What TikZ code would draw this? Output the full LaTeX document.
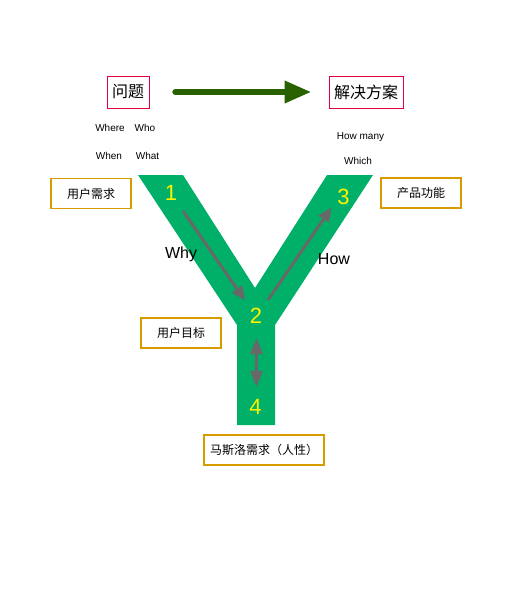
\documentclass[tikz,border=0pt]{standalone}
\usepackage{fontspec}
\setmainfont{Liberation Sans}
\newfontfamily\cjk{Noto Sans CJK SC}
\usetikzlibrary{arrows.meta,positioning}

\definecolor{ygreen}{RGB}{0,176,104}
\definecolor{darkgreen}{RGB}{41,97,0}
\definecolor{boxorange}{RGB}{215,155,0}
\definecolor{boxred}{RGB}{225,0,60}
\definecolor{arrgray}{RGB}{104,104,104}

\begin{document}
\begin{tikzpicture}[x=1pt,y=-1pt]
		\tikzstyle{redbox}=[draw=boxred, line width=1pt, inner sep=0pt, minimum height=32pt, font=\cjk\fontsize{16}{18}\selectfont]
		\tikzstyle{orangebox}=[draw=boxorange, line width=1.5pt, inner sep=0pt, minimum width=80pt, minimum height=30pt, font=\cjk\fontsize{12}{14}\selectfont]
		\tikzstyle{digit}=[text=yellow, inner sep=0pt, font=\fontsize{22}{24}\selectfont]
		\tikzstyle{small}=[inner sep=0pt, font=\fontsize{10}{12}\selectfont]
		\tikzstyle{big}=[inner sep=0pt, font=\fontsize{16}{18}\selectfont]
		\tikzstyle{grayarrow}=[draw=arrgray, line width=3pt, -{Triangle[length=14pt,width=12pt]}]
		
		\useasboundingbox (0,0) rectangle (512,600);
		
		% Y shape
		\fill[ygreen] (138,175) -- (183,175) -- (255,288) -- (327,175) -- (373,175)
		-- (275,325) -- (275,425) -- (237,425) -- (237,325) -- cycle;
		
		% Top row
		\node[redbox, minimum width=42pt] (problem) at (128,92) {问题};
		\node[redbox, minimum width=74pt] (solution) at (366,92) {解决方案};
		\draw[darkgreen, line width=6.5pt, line cap=round, -{Triangle[length=27pt,width=21pt]}]
		([xshift=26pt]problem.east) -- ([xshift=-17pt]solution.west);
		
		% Questions
		\node[small] (where) at (110,128) {Where};
		\node[small] (who) at (145,128) {Who};
		\node[small] (when) at (109,156) {When};
		\node[small] (what) at (147.5,156) {What};
		\node[small] (howmany) at (360.5,137) {How many};
		\node[small] (which) at (358,160.5) {Which};
		
		% Boxes
		\node[orangebox] (need) at (91,193.5) {用户需求};
		\node[orangebox] (feature) at (421,193) {产品功能};
		\node[orangebox] (goal) at (181,333) {用户目标};
		\node[orangebox, minimum width=120pt] (maslow) at (264,450) {马斯洛需求（人性）};
		
		% Numbers
		\node[digit] (n1) at (171,193) {1};
		\node[digit] (n2) at (256,316) {2};
		\node[digit] (n3) at (343.5,196.5) {3};
		\node[digit] (n4) at (255.5,407) {4};
		
		\node[big] (why) at (181,254) {Why};
		\node[big] (how) at (334,259) {How};
		
		% Arrows
		\coordinate (why_s) at (183,211);
		\coordinate (why_e) at (245,300.5);
		\coordinate (how_s) at (268,300);
		\coordinate (how_e) at (331.5,207.5);
		\coordinate (up_e) at (256.5,338);
		\coordinate (down_e) at (256.5,387);
		\draw[grayarrow] (why_s) -- (why_e);
		\draw[grayarrow] (how_s) -- (how_e);
		\draw[grayarrow, {Triangle[length=16pt,width=12pt]}-{Triangle[length=16pt,width=12pt]}] (up_e) -- (down_e);
		
\end{tikzpicture}
\end{document}
